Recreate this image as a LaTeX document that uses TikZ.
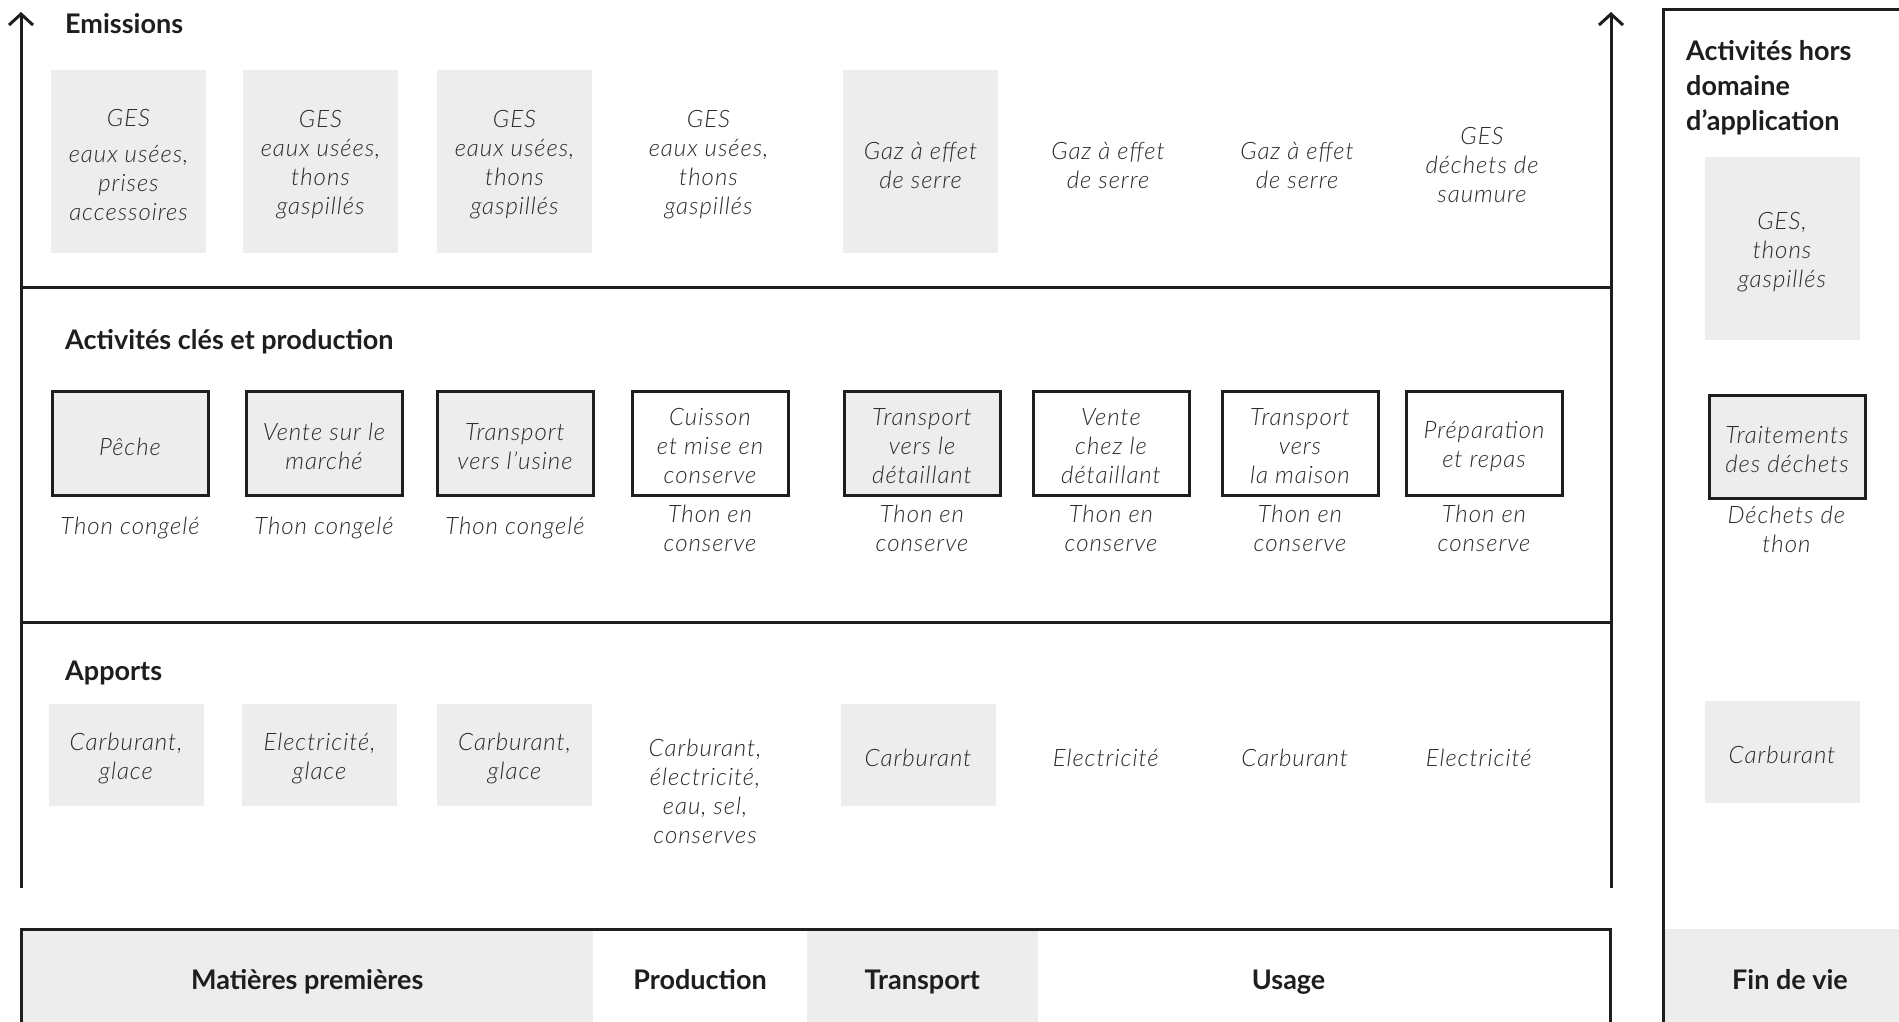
\documentclass[tikz,border=0pt]{standalone}
\usepackage{fontspec}
\IfFontExistsTF{Lato Light Italic}
  {\setmainfont{Lato}[ItalicFont={Lato Light Italic}]}
  {\setmainfont{Lato}}
\usetikzlibrary{arrows.meta}

\definecolor{ink}{HTML}{1E1E1E}
\definecolor{boxgray}{HTML}{EDEDED}
\definecolor{txt}{HTML}{2A2A2A}

\tikzset{
  ln/.style={draw=ink, line width=3pt},
  axis/.style={ln, -{Straight Barb[length=11pt,width=24pt]}},
  % italic texts, set a little below the centre of their box
  itm/.style={text=txt, align=center, inner sep=0pt, yshift=-3.5pt,
    font=\fontsize{24}{29}\selectfont\itshape\addfontfeature{LetterSpace=4}},
  hd/.style={text=ink, align=left, inner sep=0pt, anchor=west, yshift=-3pt,
    font=\fontsize{27}{35}\selectfont\bfseries},
  emis/.style={minimum width=155pt, minimum height=183pt, inner sep=0pt},
  emisfill/.style={emis, fill=boxgray},
  act/.style={ln, minimum width=156pt, minimum height=104pt, inner sep=0pt},
  actfill/.style={act, fill=boxgray},
  actwhite/.style={act, fill=white},
  inp/.style={minimum width=155pt, minimum height=102pt, inner sep=0pt},
  inpfill/.style={inp, fill=boxgray},
  seg/.style={text=ink, inner sep=0pt, minimum height=101pt,
    text height=20pt, text depth=0pt,
    font=\fontsize{27}{30}\selectfont\bfseries},
}

\begin{document}
\begin{tikzpicture}[x=1pt, y=-1pt]
\clip (0,0) rectangle (1899,1021);
\fill[white] (0,0) rectangle (1899,1021);

% ---- frame of the life-cycle chart ----
\coordinate (axL0) at (21,888);
\coordinate (axL1) at (21,12);
\coordinate (axR0) at (1611,888);
\coordinate (axR1) at (1611,12);
\coordinate (h1a) at (21,287);
\coordinate (h1b) at (1611,287);
\coordinate (h2a) at (21,622.5);
\coordinate (h2b) at (1611,622.5);

% ---- emissions row ----
\node[hd] (hEmis) at (65,21) {Emissions};
\node[emisfill] (e1) at (128.5,161.5) {};
\node[emisfill] (e2) at (320.5,161.5) {};
\node[emisfill] (e3) at (514.5,161.5) {};
\node[emis]     (e4) at (708.5,161.5) {};
\node[emisfill] (e5) at (920.5,161.5) {};
\node[emis]     (e6) at (1108,161.5) {};
\node[emis]     (e7) at (1297,161.5) {};
\node[emis]     (e8) at (1482,161.5) {};
\node[itm] (e1t) at (e1) {GES\\[7pt]eaux usées,\\prises\\accessoires};
\node[itm] (e2t) at (e2) {GES\\eaux usées,\\thons\\gaspillés};
\node[itm] (e3t) at (e3) {GES\\eaux usées,\\thons\\gaspillés};
\node[itm] (e4t) at (e4) {GES\\eaux usées,\\thons\\gaspillés};
\node[itm] (e5t) at (e5) {Gaz à effet\\de serre};
\node[itm] (e6t) at (e6) {Gaz à effet\\de serre};
\node[itm] (e7t) at (e7) {Gaz à effet\\de serre};
\node[itm] (e8t) at (e8) {GES\\déchets de\\saumure};

% ---- key activities row ----
\node[hd] (hAct) at (65,339) {Activités clés et production};
\node[actfill]  (a1) at (130,443) {};
\node[actfill]  (a2) at (324,443) {};
\node[actfill]  (a3) at (515,443) {};
\node[actwhite] (a4) at (710,443) {};
\node[actfill]  (a5) at (922,443) {};
\node[actwhite] (a6) at (1111,443) {};
\node[actwhite] (a7) at (1300,443) {};
\node[actwhite] (a8) at (1484,443) {};
\node[itm] (a1t) at (a1) {Pêche};
\node[itm] (a2t) at (a2) {Vente sur le\\marché};
\node[itm] (a3t) at (a3) {Transport\\vers l’usine};
\node[itm] (a4t) at (a4) {Cuisson\\et mise en\\conserve};
\node[itm] (a5t) at (a5) {Transport\\vers le\\détaillant};
\node[itm] (a6t) at (a6) {Vente\\chez le\\détaillant};
\node[itm] (a7t) at (a7) {Transport\\vers\\la maison};
\node[itm] (a8t) at (a8) {Préparation\\et repas};

\node[itm] (o1) at (130,524.5) {Thon congelé};
\node[itm] (o2) at (324,524.5) {Thon congelé};
\node[itm] (o3) at (515,524.5) {Thon congelé};
\node[itm] (o4) at (710,524.5) {Thon en\\conserve};
\node[itm] (o5) at (922,524.5) {Thon en\\conserve};
\node[itm] (o6) at (1111,524.5) {Thon en\\conserve};
\node[itm] (o7) at (1300,524.5) {Thon en\\conserve};
\node[itm] (o8) at (1484,524.5) {Thon en\\conserve};

% ---- inputs row ----
\node[hd] (hInp) at (65,670) {Apports};
\node[inpfill] (p1) at (126,754.5) {};
\node[inpfill] (p2) at (319.5,754.5) {};
\node[inpfill] (p3) at (514.5,754.5) {};
\node[inpfill] (p5) at (918,754.5) {};
\node[itm] (p1t) at (p1) {Carburant,\\glace};
\node[itm] (p2t) at (p2) {Electricité,\\glace};
\node[itm] (p3t) at (p3) {Carburant,\\glace};
\node[itm] (p4)  at (705,787.5) {Carburant,\\électricité,\\eau, sel,\\conserves};
\node[itm] (p5t) at (p5) {Carburant};
\node[itm] (p6)  at (1105.7,754) {Electricité};
\node[itm] (p7)  at (1294.7,754) {Carburant};
\node[itm] (p8)  at (1478.7,754) {Electricité};

% ---- axes and separators ----
\draw[axis] (axL0) -- (axL1);
\draw[axis] (axR0) -- (axR1);
\draw[ln] (h1a) -- (h1b);
\draw[ln] (h2a) -- (h2b);

% ---- life-cycle stages bar ----
\node[seg, fill=boxgray, minimum width=572.4pt] (sRaw) at (307.2,979.5) {Matières premières};
\node[seg, minimum width=213.2pt] (sProd) at (700,979.5) {Production};
\node[seg, fill=boxgray, minimum width=231.4pt] (sTrans) at (922.3,979.5) {Transport};
\node[seg] (sUse) at (1288.6,979.5) {Usage};
\draw[ln] (21,1030) -- (21,929) -- (1610,929) -- (1610,1030);

% ---- out-of-scope panel ----
\node[seg, fill=boxgray, minimum width=254pt] (sEnd) at (1790,979.5) {Fin de vie};
\draw[ln] (1663,1030) -- (1663,9.7) -- (1910,9.7);
\node[hd] (hOut) at (1686,84.3) {Activités hors\\domaine\\d’application};
\node[emisfill] (re) at (1782,248.9) {};
\node[itm] (ret) at (re) {GES,\\thons\\gaspillés};
\node[actfill, minimum height=103pt] (ra) at (1787,446.5) {};
\node[itm] (rat) at (ra) {Traitements\\des déchets};
\node[itm] (ro) at (1786.4,526) {Déchets de\\thon};
\node[inpfill] (rp) at (1782,751.5) {};
\node[itm] (rpt) at (rp) {Carburant};
\end{tikzpicture}
\end{document}
